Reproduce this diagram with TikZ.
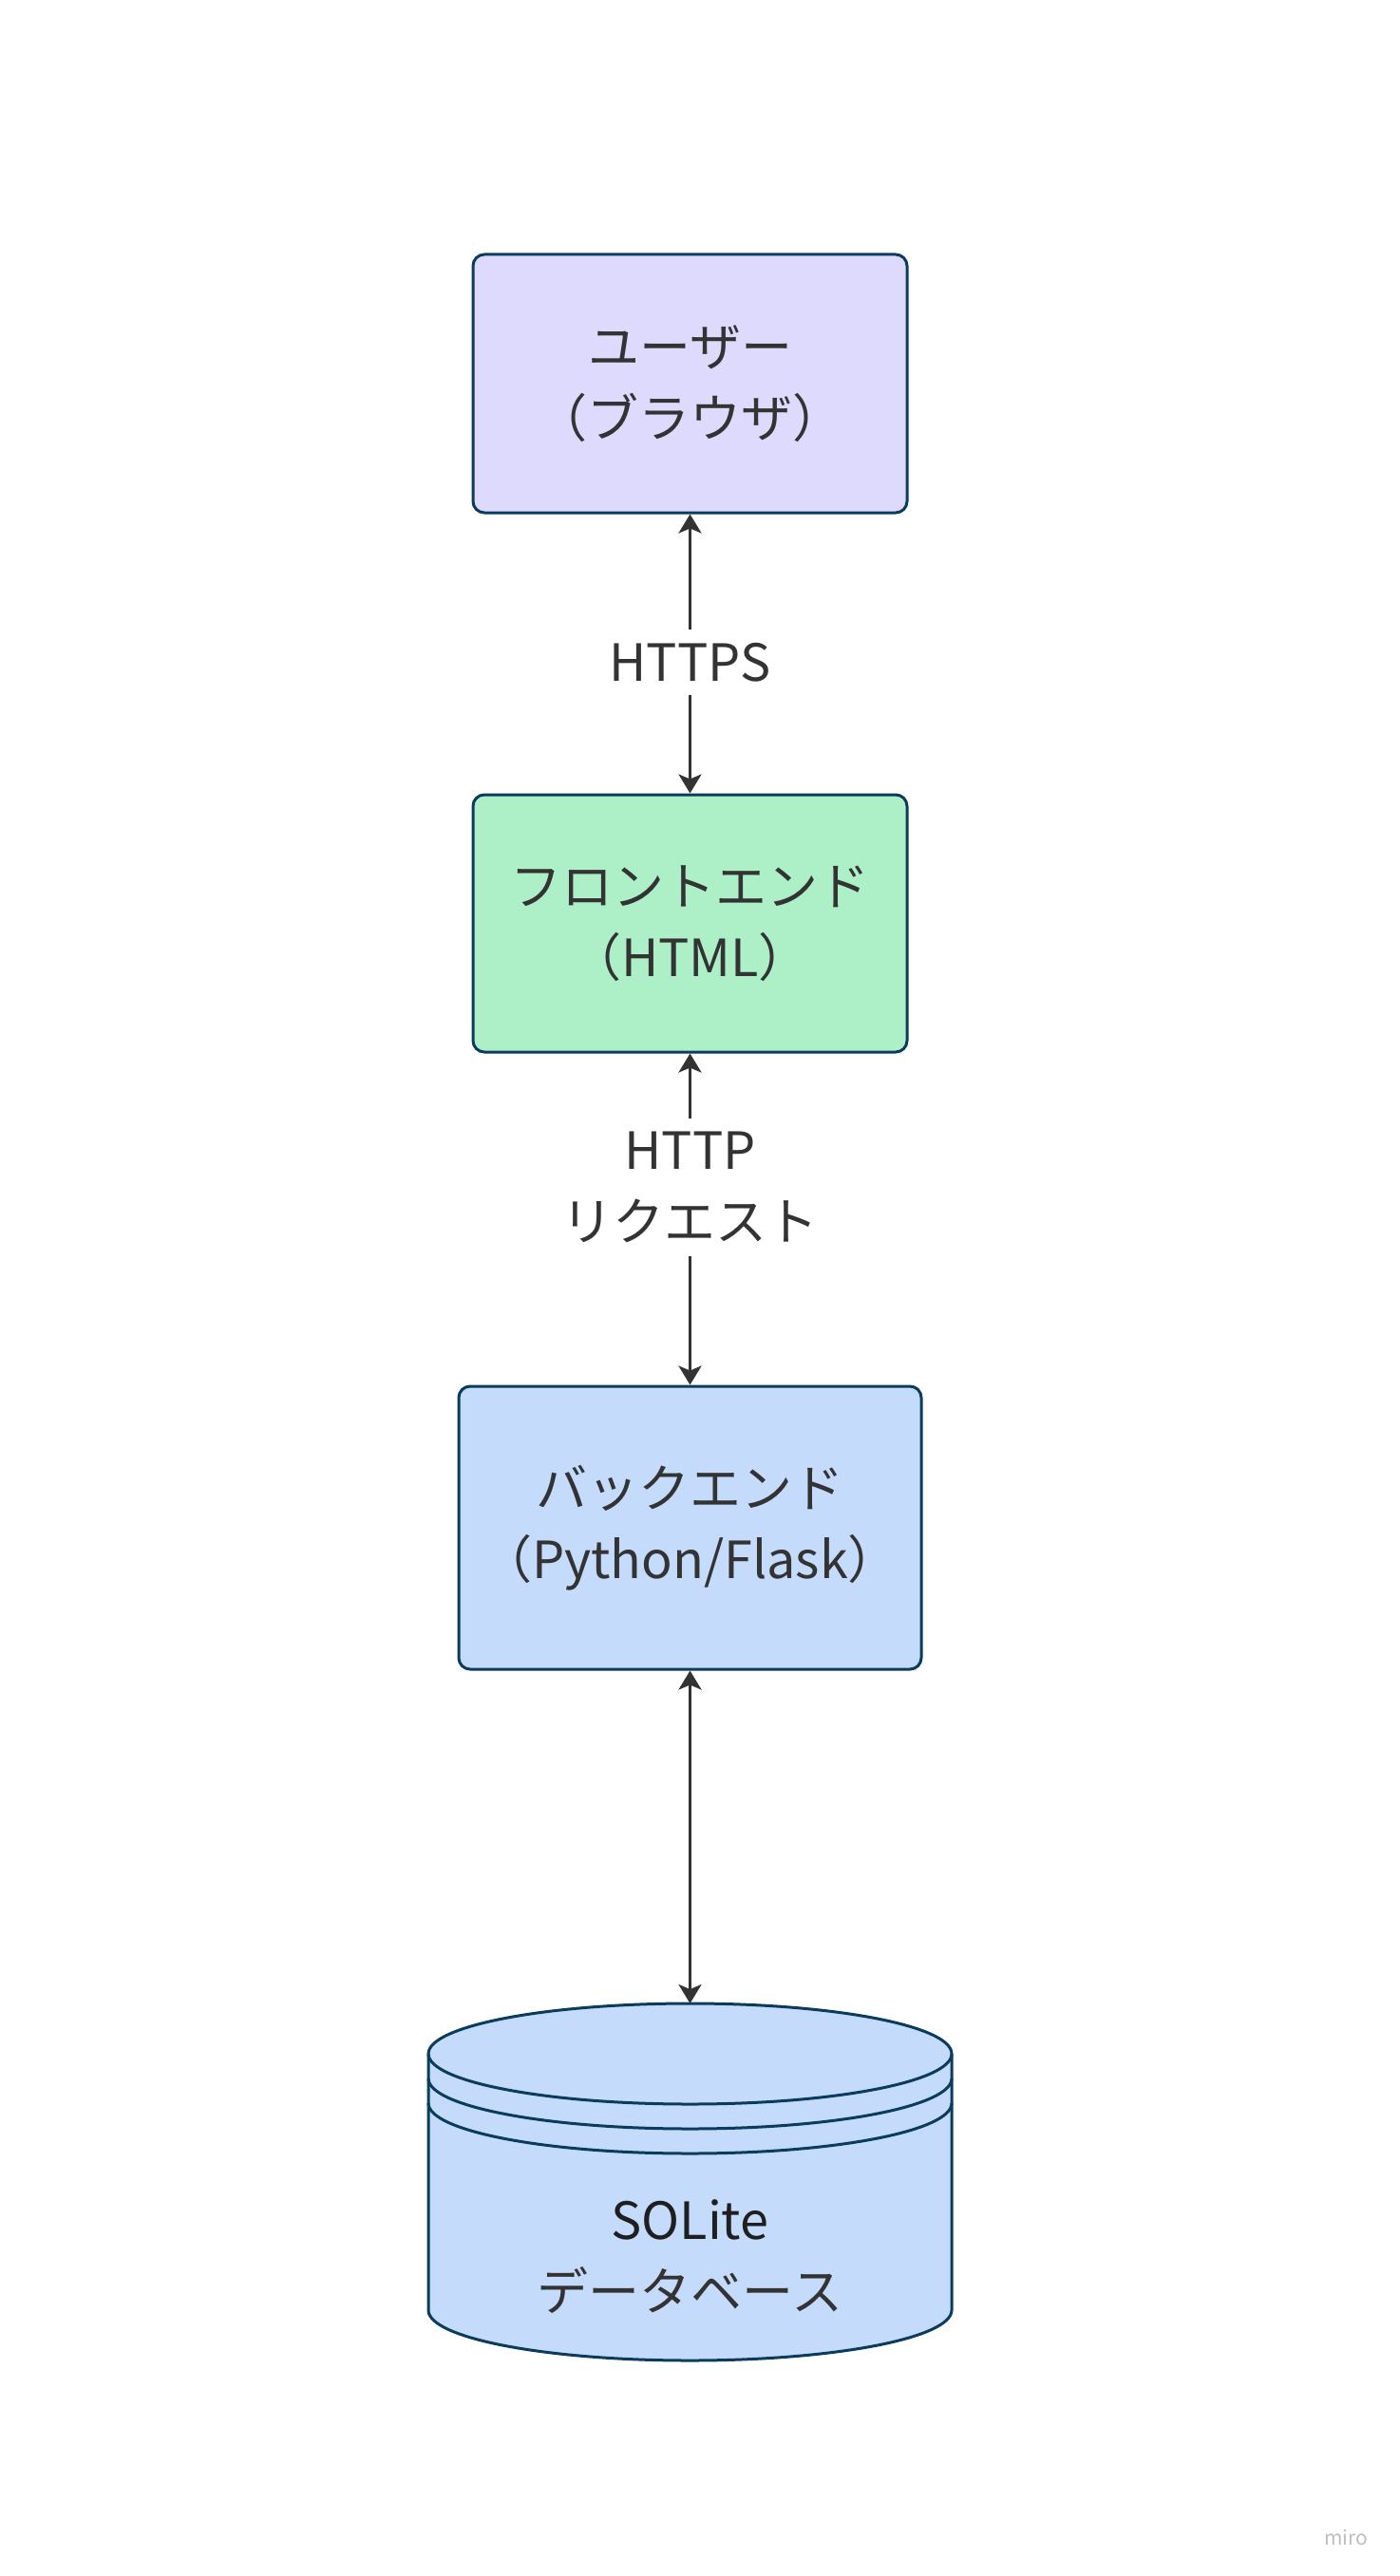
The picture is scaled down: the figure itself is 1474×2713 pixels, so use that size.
\documentclass[tikz,border=0pt]{standalone}
\usepackage{fontspec}
\setmainfont{Noto Sans CJK JP}
\usetikzlibrary{arrows.meta}

\definecolor{boxline}{HTML}{0B3C5D}
\definecolor{txt}{HTML}{333333}
\definecolor{userfill}{HTML}{DDDAFE}
\definecolor{frontfill}{HTML}{ADF0C8}
\definecolor{backfill}{HTML}{C5DBFC}
\definecolor{mirogray}{HTML}{BDBDC4}

\begin{document}
\begin{tikzpicture}[x=1pt, y=1pt, font=\fontsize{54}{75}\selectfont, text=txt, align=center]

    % Styles
    \tikzstyle{box} = [rectangle, rounded corners=12pt, draw=boxline, line width=3pt, inner sep=0pt]
    \tikzstyle{user} = [box, fill=userfill, minimum width=457pt, minimum height=272pt]
    \tikzstyle{front} = [box, fill=frontfill, minimum width=457pt, minimum height=271pt]
    \tikzstyle{back} = [box, fill=backfill, minimum width=487pt, minimum height=298pt]
    \tikzstyle{dbshape} = [fill=backfill, draw=boxline, line width=3pt]
    \tikzstyle{connection} = [{Stealth[length=20pt,width=24pt,inset=5pt]}-{Stealth[length=20pt,width=24pt,inset=5pt]}, line width=3.2pt, draw=txt]
    \tikzstyle{edgetext} = [fill=white, inner sep=14pt]

    \useasboundingbox (0,0) rectangle (1474,-2713);

    % Layers
    \node[user] (U) at (726.5,-404) {ユーザー\\（ブラウザ）};
    \node[front] (F) at (726.5,-972.5) {フロントエンド\\（HTML）};
    \node[back] (B) at (726.5,-1609) {バックエンド\\（Python/Flask）};

    % Database
    \filldraw[dbshape] (451,-2163) arc[start angle=180, end angle=0, x radius=275.5, y radius=53]
        -- (1002,-2433) arc[start angle=0, end angle=-180, x radius=275.5, y radius=53] -- cycle;
    \foreach \y in {2163,2189,2215}
        \draw[dbshape, fill=none] (451,-\y) arc[start angle=180, end angle=360, x radius=275.5, y radius=53];
    \coordinate (Dtop) at (726.5,-2110);
    \node (D) at (726.5,-2377) {{\color{black!88}SOLite}\\データベース};

    % Connections
    \draw[connection] (U) -- node[edgetext, pos=0.53] (L1) {HTTPS} (F);
    \draw[connection] (F) -- node[edgetext, pos=0.403] (L2) {HTTP\\リクエスト} (B);
    \draw[connection] (B) -- (Dtop);

    % Watermark
    \node[text=mirogray, font=\fontsize{21}{24}\selectfont] (M) at (1417,-2672) {miro};

\end{tikzpicture}
\end{document}
